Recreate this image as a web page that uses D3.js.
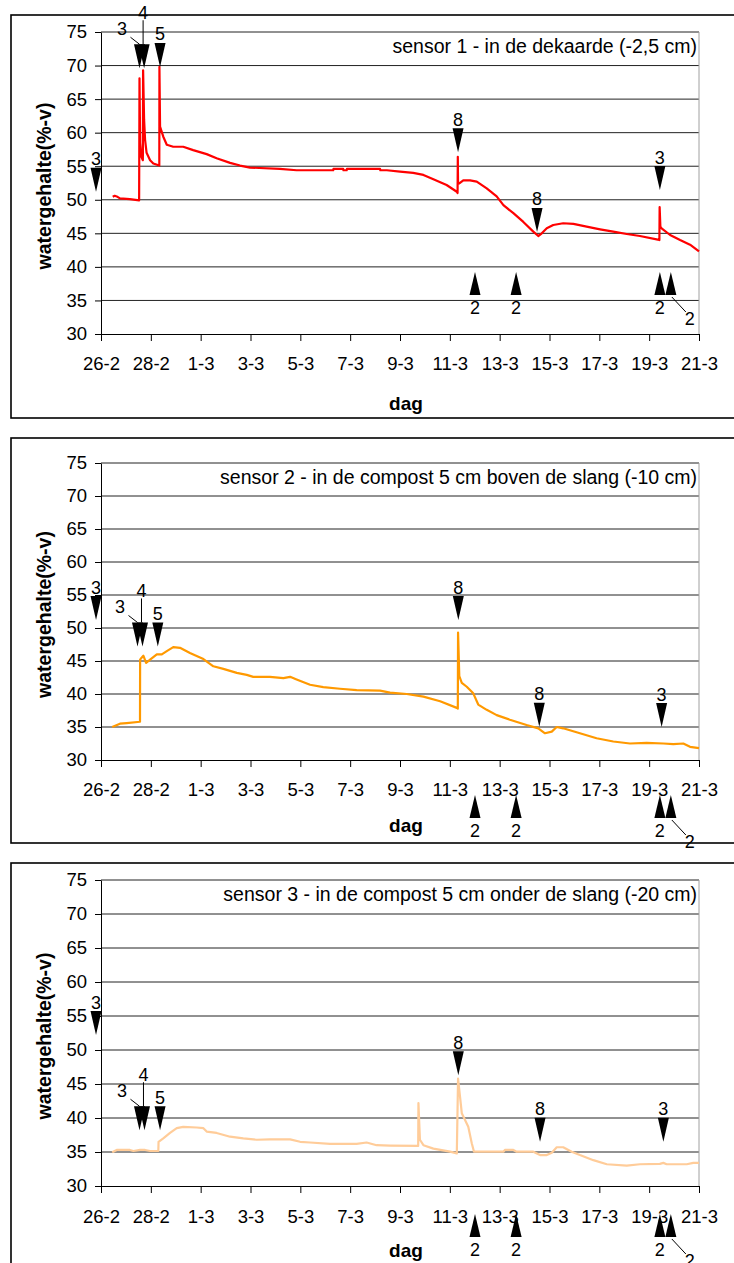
<!DOCTYPE html>
<html>
<head>
<meta charset="utf-8">
<script src="https://cdn.jsdelivr.net/npm/d3@7"></script>
<style>
  body { margin: 0; background: #fff; }
  svg { display: block; }
  text { font-family: "Liberation Sans", Arial, sans-serif; fill: #000; }
</style>
</head>
<body>
<svg id="chart" width="734" height="1263"></svg>
<script>
// Days counted from 26-2 (leap year: 29-2 exists), tick every 2 days
const tickDays = [0, 2, 4, 6, 8, 10, 12, 14, 16, 18, 20, 22, 24];
const tickLabels = ["26-2", "28-2", "1-3", "3-3", "5-3", "7-3", "9-3", "11-3", "13-3", "15-3", "17-3", "19-3", "21-3"];
const valueTicks = [30, 35, 40, 45, 50, 55, 60, 65, 70, 75];

const titles = [
  "sensor 1 - in de dekaarde (-2,5 cm)",
  "sensor 2 - in de compost 5 cm boven de slang (-10 cm)",
  "sensor 3 - in de compost 5 cm onder de slang (-20 cm)"
];

// Water content (%-v) per sensor: [day, value]
const sensor1 = [
  [0.47,50.45],[0.55,50.6],[0.63,50.5],[0.76,50.2],[1.16,50.1],[1.53,49.9],
  [1.545,68.1],[1.57,58.5],[1.62,56.4],[1.68,55.9],
  [1.69,69.3],[1.73,61.9],[1.77,58.9],[1.83,57.0],[1.97,55.9],[2.10,55.4],[2.34,55.1],
  [2.345,69.8],[2.37,60.9],[2.50,59.4],[2.64,58.2],[2.90,57.9],[3.30,57.9],[3.70,57.4],
  [4.24,56.8],[4.64,56.2],[5.18,55.5],[5.58,55.1],[5.98,54.8],[7.18,54.6],[7.85,54.4],
  [8.52,54.4],[9.32,54.4],[9.33,54.6],[9.72,54.6],[9.73,54.4],[9.86,54.4],[9.87,54.6],
  [11.20,54.6],[11.21,54.4],[11.47,54.4],[12.00,54.2],[12.53,54.0],[12.94,53.7],
  [13.34,53.05],[13.87,52.2],[14.28,51.2],[14.31,51.0],[14.32,56.4],[14.33,52.4],
  [14.38,52.45],[14.54,52.9],[14.81,52.9],[15.08,52.7],[15.48,51.7],[15.88,50.5],
  [16.15,49.2],[16.55,48.0],[16.95,46.7],[17.35,45.25],[17.55,44.6],[17.69,45.0],
  [17.89,45.75],[18.15,46.24],[18.55,46.5],[18.96,46.4],[19.49,46.0],[20.03,45.6],
  [20.56,45.25],[21.10,44.9],[21.63,44.6],[22.30,44.1],[22.41,44.0],[22.42,48.9],
  [22.45,46.0],[22.50,45.75],[22.84,44.75],[23.24,44.0],[23.64,43.3],[24.0,42.3]
];
const sensor2 = [
  [0.45,35.0],[0.76,35.5],[1.03,35.6],[1.565,35.8],[1.57,45.2],[1.63,45.5],[1.70,45.8],
  [1.81,44.7],[1.97,45.2],[2.24,46.0],[2.44,46.0],[2.64,46.5],[2.90,47.1],[3.17,47.0],
  [3.57,46.2],[4.11,45.3],[4.51,44.2],[4.91,43.8],[5.45,43.2],[5.85,42.9],[6.11,42.6],
  [6.78,42.6],[7.32,42.4],[7.59,42.6],[7.85,42.2],[8.39,41.4],[8.92,41.05],[9.59,40.8],
  [10.26,40.6],[11.20,40.5],[11.60,40.2],[12.27,40.0],[12.94,39.6],[13.61,38.9],
  [14.28,37.9],[14.32,37.8],[14.33,49.3],[14.38,42.7],[14.48,41.7],[14.68,41.1],
  [14.94,40.1],[15.14,38.4],[15.48,37.6],[15.88,36.8],[16.41,36.1],[17.08,35.3],
  [17.55,34.8],[17.82,34.05],[18.09,34.3],[18.29,35.0],[18.55,34.8],[19.22,34.05],
  [19.89,33.3],[20.56,32.8],[21.23,32.5],[21.90,32.6],[22.57,32.5],[22.97,32.4],
  [23.37,32.5],[23.64,32.0],[24.0,31.8]
];
const sensor3 = [
  [0.45,34.95],[0.63,35.3],[1.16,35.3],[1.30,35.15],[1.57,35.3],[1.77,35.3],[1.97,35.15],
  [2.30,35.15],[2.31,36.5],[2.50,37.0],[2.77,37.8],[3.04,38.5],[3.30,38.7],[3.84,38.6],
  [4.11,38.5],[4.24,38.0],[4.64,37.8],[5.18,37.25],[5.71,37.0],[6.25,36.8],[6.78,36.85],
  [7.59,36.85],[7.99,36.5],[8.39,36.4],[9.19,36.2],[10.26,36.2],[10.66,36.4],[11.06,36.0],
  [11.60,35.95],[12.73,35.9],[12.74,42.2],[12.80,36.8],[12.94,36.0],[13.34,35.5],
  [14.01,35.05],[14.28,34.8],[14.33,45.8],[14.41,43.1],[14.48,40.7],[14.61,39.7],
  [14.74,38.7],[14.88,36.3],[14.97,35.05],[15.48,35.05],[16.15,35.05],[16.21,35.3],
  [16.55,35.3],[16.68,35.05],[17.35,35.05],[17.62,34.55],[17.89,34.55],[18.09,34.9],
  [18.29,35.7],[18.55,35.7],[18.89,35.05],[19.22,34.55],[19.76,33.8],[20.30,33.2],
  [21.10,33.0],[21.63,33.2],[22.43,33.25],[22.57,33.4],[22.70,33.2],[23.51,33.2],
  [23.77,33.4],[24.0,33.4]
];

// Event markers pointing down at the curve: day, value at the arrow tip, label
const events1 = [
  {day: -0.2, tip: 51.2, label: "3"},
  {day: 1.545, tip: 69.6, label: "3", leader: true},
  {day: 1.73, tip: 69.6, label: "4", stem: true},
  {day: 2.37, tip: 69.8, label: "5"},
  {day: 14.33, tip: 57.1, label: "8"},
  {day: 17.5, tip: 45.2, label: "8"},
  {day: 22.43, tip: 51.45, label: "3"}
];
const events2 = [
  {day: -0.2, tip: 51.2, label: "3"},
  {day: 1.465, tip: 47.2, label: "3", leader: true},
  {day: 1.665, tip: 47.2, label: "4", stem: true},
  {day: 2.28, tip: 47.2, label: "5"},
  {day: 14.34, tip: 51.2, label: "8"},
  {day: 17.59, tip: 35.05, label: "8"},
  {day: 22.5, tip: 35.0, label: "3"}
];
const events3 = [
  {day: -0.2, tip: 52.2, label: "3"},
  {day: 1.545, tip: 38.2, label: "3", leader: true},
  {day: 1.745, tip: 38.2, label: "4", stem: true},
  {day: 2.37, tip: 38.2, label: "5"},
  {day: 14.34, tip: 46.3, label: "8"},
  {day: 17.62, tip: 36.5, label: "8"},
  {day: 22.57, tip: 36.5, label: "3"}
];
// Irrigation markers pointing up (label "2")
const irrigationDays = [15.01, 16.66, 22.43, 22.87];
const irrigationLabel = "2";

const panels = [
  {data: sensor1, events: events1, color: "#ff0000", frameTop: 15, frameBottom: 418,
   plotTop: 32, plotBottom: 334, pad: 16, dagY: 403, upTip: 272},
  {data: sensor2, events: events2, color: "#ff9900", frameTop: 438, frameBottom: 843,
   plotTop: 463, plotBottom: 760, pad: 16, dagY: 825, upTip: 795},
  {data: sensor3, events: events3, color: "#ffcc99", frameTop: 863, frameBottom: 1290,
   plotTop: 880, plotBottom: 1186, pad: 17, dagY: 1250, upTip: 1214}
];

const svg = d3.select("#chart");
const left = 101, right = 699;
const x = d3.scaleLinear().domain([0, 24]).range([left, right]);

function downTriangle(g, cx, tipY) {
  g.append("path")
    .attr("d", `M${cx - 5.5},${tipY - 24} L${cx + 5.5},${tipY - 24} L${cx},${tipY} Z`)
    .attr("fill", "#000");
}
function upTriangle(g, cx, tipY) {
  g.append("path")
    .attr("d", `M${cx - 5.5},${tipY + 23} L${cx + 5.5},${tipY + 23} L${cx},${tipY} Z`)
    .attr("fill", "#000");
}

panels.forEach((p, i) => {
  const g = svg.append("g");
  const y = d3.scaleLinear().domain([30, 75]).range([p.plotBottom, p.plotTop]);

  // outer frame
  g.append("rect")
    .attr("x", 11).attr("y", p.frameTop)
    .attr("width", 740).attr("height", p.frameBottom - p.frameTop)
    .attr("fill", "none").attr("stroke", "#000").attr("stroke-width", 1.6);

  // horizontal gridlines
  g.append("g").selectAll("line")
    .data(valueTicks.filter(v => v > 30))
    .join("line")
    .attr("x1", left).attr("x2", right)
    .attr("y1", d => y(d)).attr("y2", d => y(d))
    .attr("stroke", "#222").attr("stroke-width", 1);

  // right border of plot area
  g.append("line")
    .attr("x1", right).attr("x2", right)
    .attr("y1", p.plotTop).attr("y2", p.plotBottom)
    .attr("stroke", "#a0a0a0").attr("stroke-width", 1);

  // y axis
  const yAxis = g.append("g")
    .attr("transform", `translate(${left},0)`)
    .call(d3.axisLeft(y).tickValues(valueTicks).tickSize(6).tickSizeOuter(0).tickPadding(8).tickFormat(d3.format("d")));
  yAxis.select(".domain").attr("stroke", "#000");
  yAxis.selectAll("text").style("font-size", "18.5px").style("font-family", "Liberation Sans, Arial, sans-serif");

  // x axis
  const xAxis = g.append("g")
    .attr("transform", `translate(0,${p.plotBottom})`)
    .call(d3.axisBottom(x).tickValues(tickDays).tickSize(7).tickSizeOuter(0).tickPadding(p.pad)
      .tickFormat((d, k) => tickLabels[k]));
  xAxis.select(".domain").attr("stroke", "#000");
  xAxis.selectAll("text").style("font-size", "18.5px").style("font-family", "Liberation Sans, Arial, sans-serif");

  // series
  g.append("path")
    .datum(p.data)
    .attr("fill", "none")
    .attr("stroke", p.color)
    .attr("stroke-width", 2.2)
    .attr("stroke-linejoin", "round")
    .attr("d", d3.line().x(d => x(d[0])).y(d => y(d[1])));

  // chart title inside plot area
  g.append("text")
    .attr("x", 697).attr("y", p.plotTop + 21)
    .attr("text-anchor", "end")
    .style("font-size", "19.5px")
    .text(titles[i]);

  // axis titles
  g.append("text")
    .attr("transform", `translate(51,${(p.plotTop + p.plotBottom) / 2 + 3}) rotate(-90)`)
    .attr("text-anchor", "middle")
    .style("font-size", "19.5px").style("font-weight", "bold")
    .text("watergehalte(%-v)");
  g.append("text")
    .attr("x", 406).attr("y", p.dagY + 7)
    .attr("text-anchor", "middle")
    .style("font-size", "19px").style("font-weight", "bold")
    .text("dag");

  // event markers
  const ann = g.append("g");
  p.events.forEach(e => {
    const cx = x(e.day), ty = y(e.tip);
    downTriangle(ann, cx, ty);
    if (e.leader) {
      ann.append("line")
        .attr("x1", cx - 9).attr("y1", ty - 31).attr("x2", cx).attr("y2", ty - 24)
        .attr("stroke", "#000").attr("stroke-width", 1);
      ann.append("text").attr("x", cx - 17.5).attr("y", ty - 40 + 6.5)
        .attr("text-anchor", "middle").style("font-size", "18px").text(e.label);
    } else if (e.stem) {
      ann.append("line")
        .attr("x1", cx - 1).attr("y1", ty - 48).attr("x2", cx - 1).attr("y2", ty - 24)
        .attr("stroke", "#000").attr("stroke-width", 1);
      ann.append("text").attr("x", cx - 1).attr("y", ty - 56 + 6.5)
        .attr("text-anchor", "middle").style("font-size", "18px").text(e.label);
    } else {
      ann.append("text").attr("x", cx).attr("y", ty - 33 + 6.5)
        .attr("text-anchor", "middle").style("font-size", "18px").text(e.label);
    }
  });

  // irrigation markers
  irrigationDays.forEach((d, k) => {
    const cx = x(d);
    upTriangle(ann, cx, p.upTip);
    if (k === irrigationDays.length - 1) {
      ann.append("line")
        .attr("x1", cx + 1).attr("y1", p.upTip + 25).attr("x2", cx + 15).attr("y2", p.upTip + 40)
        .attr("stroke", "#000").attr("stroke-width", 1);
      ann.append("text").attr("x", cx + 19).attr("y", p.upTip + 46 + 6.5)
        .attr("text-anchor", "middle").style("font-size", "18px").text(irrigationLabel);
    } else {
      ann.append("text").attr("x", cx).attr("y", p.upTip + 35 + 6.5)
        .attr("text-anchor", "middle").style("font-size", "18px").text(irrigationLabel);
    }
  });
});
</script>
</body>
</html>
